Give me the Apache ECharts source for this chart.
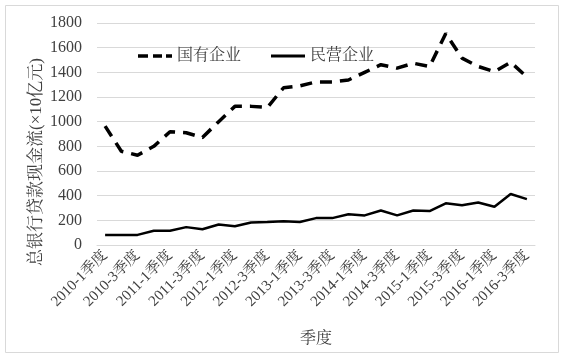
<!DOCTYPE html>
<html><head><meta charset="utf-8">
<script src="https://cdn.jsdelivr.net/npm/echarts@6/dist/echarts.min.js"></script>
<style>html,body{margin:0;padding:0;background:#fff}#c{width:567px;height:359px}</style>
</head><body><div id="c"></div>
<script>
var categories = ['2010-1季度','2010-2季度','2010-3季度','2010-4季度','2011-1季度','2011-2季度','2011-3季度','2011-4季度','2012-1季度','2012-2季度','2012-3季度','2012-4季度','2013-1季度','2013-2季度','2013-3季度','2013-4季度','2014-1季度','2014-2季度','2014-3季度','2014-4季度','2015-1季度','2015-2季度','2015-3季度','2015-4季度','2016-1季度','2016-2季度','2016-3季度'];
var stateOwned = [964,760,728,800,918,910,872,1000,1124,1124,1115,1275,1290,1322,1322,1338,1400,1462,1434,1474,1447,1715,1515,1447,1406,1482,1362];
var privateOwned = [82,82,82,115,115,145,128,166,152,183,186,193,186,218,218,250,240,280,240,280,275,338,323,345,310,413,372];
var yTicks = [0,200,400,600,800,1000,1200,1400,1600,1800];
var serif = '"Liberation Serif","Noto Serif CJK SC","Noto Sans CJK SC",serif';
var chart = echarts.init(document.getElementById('c'));
chart.setOption({
  animation:false,
  backgroundColor:'#fff',
  graphic:[
    {type:'rect',shape:{x:5.5,y:5.5,width:553,height:347},style:{fill:'none',stroke:'#d9d9d9',lineWidth:1}},
    {type:'text',x:37,y:162,rotation:Math.PI/2,style:{text:'总银行贷款现金流(×10亿元)',font:'17px '+serif,fill:'#404040',align:'center',verticalAlign:'middle'}}
  ],
  grid:{left:97,right:32,top:23,bottom:114},
  legend:{
    left:133,top:43,itemWidth:34,itemHeight:3.5,itemGap:30,
    textStyle:{fontSize:16,fontFamily:serif,color:'#404040'},
    data:[
      {name:'国有企业',icon:'path://M0,0h10v3.5h-10z M15,0h9v3.5h-9z M28,0h6v3.5h-6z',itemStyle:{color:'#000'}},
      {name:'民营企业',icon:'path://M0,0h34v3h-34z',itemStyle:{color:'#000'}}
    ]
  },
  xAxis:{
    type:'category',data:categories,boundaryGap:true,
    name:'季度',nameLocation:'middle',nameGap:86,
    nameTextStyle:{fontSize:16,fontFamily:serif,color:'#404040'},
    axisLine:{lineStyle:{color:'#d9d9d9'}},
    axisTick:{show:false},
    axisLabel:{interval:1,rotate:45,fontSize:15,fontFamily:serif,color:'#404040',margin:8}
  },
  yAxis:{
    type:'value',min:0,max:1800,interval:200,
    axisLine:{show:false},axisTick:{show:false},
    splitLine:{lineStyle:{color:'#d9d9d9'}},
    axisLabel:{fontSize:16,fontFamily:serif,color:'#404040',margin:15,
      formatter:function(v){return yTicks.indexOf(v)>=0?String(v):'';}}
  },
  series:[
    {name:'国有企业',type:'line',data:stateOwned,symbol:'none',
     lineStyle:{color:'#000',width:3.5,type:[12,8]},itemStyle:{color:'#000'}},
    {name:'民营企业',type:'line',data:privateOwned,symbol:'none',
     lineStyle:{color:'#000',width:2.5},itemStyle:{color:'#000'}}
  ]
});
</script></body></html>
